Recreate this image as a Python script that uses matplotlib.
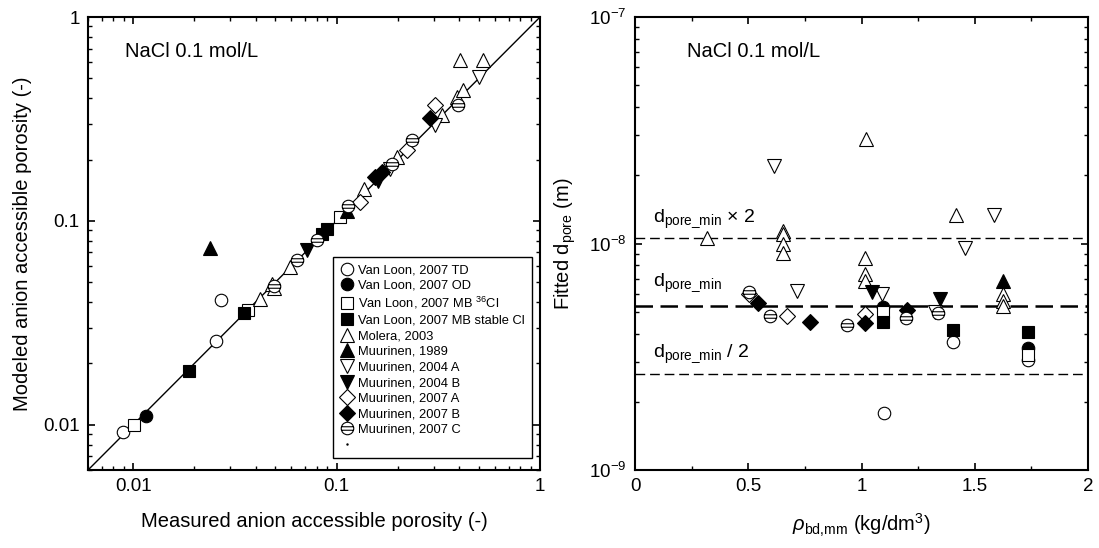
import numpy as np
import matplotlib
matplotlib.use("Agg")
import matplotlib.pyplot as plt
from matplotlib.path import Path
from matplotlib.ticker import FixedLocator, FixedFormatter, LogLocator, NullFormatter, MultipleLocator

plt.rcParams['font.family'] = ['Liberation Sans', 'DejaVu Sans']
plt.rcParams['mathtext.fontset'] = 'custom'
plt.rcParams['mathtext.rm'] = 'Liberation Sans'
plt.rcParams['mathtext.it'] = 'Liberation Sans:italic'
plt.rcParams['mathtext.default'] = 'regular'

# ---- left panel: measured vs modelled anion accessible porosity
vl_td_meas = [0.0089, 0.0256, 0.0269]
vl_td_mod = [0.0092, 0.0259, 0.0408]
vl_od_meas = [0.0115]
vl_od_mod = [0.0110]
vl_cl36_meas = [0.0101, 0.0366, 0.104]
vl_cl36_mod = [0.0100, 0.0367, 0.105]
vl_stab_meas = [0.0189, 0.0352, 0.085, 0.090]
vl_stab_mod = [0.0184, 0.0354, 0.086, 0.091]
mol_meas = [0.042, 0.048, 0.049, 0.059, 0.136, 0.198, 0.33, 0.39, 0.42, 0.405, 0.522]
mol_mod = [0.0416, 0.049, 0.047, 0.0593, 0.144, 0.206, 0.33, 0.405, 0.437, 0.615, 0.615]
m89_meas = [0.0239, 0.113]
m89_mod = [0.0735, 0.112]
m04a_meas = [0.183, 0.305, 0.50]
m04a_mod = [0.180, 0.294, 0.509]
m04b_meas = [0.0719, 0.160]
m04b_mod = [0.0716, 0.157]
m07a_meas = [0.130, 0.221, 0.305]
m07a_mod = [0.124, 0.222, 0.370]
m07b_meas = [0.155, 0.167, 0.288]
m07b_mod = [0.164, 0.174, 0.318]
m07c_meas = [0.049, 0.0637, 0.0805, 0.1135, 0.187, 0.236, 0.397]
m07c_mod = [0.048, 0.0644, 0.0809, 0.119, 0.190, 0.249, 0.370]

# ---- right panel: fitted pore diameter vs dry density
vl_td_rho = [1.10, 1.405, 1.735]
vl_td_d = [1.79e-9, 3.67e-9, 3.06e-9]
vl_od_rho = [1.095, 1.735]
vl_od_d = [5.25e-9, 3.46e-9]
vl_cl36_rho = [1.095, 1.735]
vl_cl36_d = [4.99e-9, 3.22e-9]
vl_stab_rho = [1.095, 1.405, 1.735]
vl_stab_d = [4.5e-9, 4.15e-9, 4.06e-9]
mol_rho = [0.32, 0.655, 0.655, 0.655, 0.655, 1.02, 1.015, 1.015, 1.015, 1.417, 1.625, 1.625, 1.625]
mol_d = [1.06e-8, 1.14e-8, 1.1e-8, 1.0e-8, 9.1e-9, 2.9e-8, 8.6e-9, 7.3e-9, 6.8e-9, 1.33e-8, 6.0e-9, 5.6e-9, 5.3e-9]
m89_rho = [1.625]
m89_d = [6.8e-9]
m04a_rho = [0.614, 0.715, 1.09, 1.325, 1.457, 1.585]
m04a_d = [2.2e-8, 6.2e-9, 6.0e-9, 5.0e-9, 9.6e-9, 1.33e-8]
m04b_rho = [1.046, 1.347]
m04b_d = [6.1e-9, 5.7e-9]
m07a_rho = [0.505, 0.671, 1.015]
m07a_d = [6.0e-9, 4.8e-9, 4.9e-9]
m07b_rho = [0.543, 0.773, 1.015, 1.2]
m07b_d = [5.45e-9, 4.5e-9, 4.45e-9, 5.08e-9]
m07c_rho = [0.505, 0.596, 0.936, 1.197, 1.337]
m07c_d = [6.1e-9, 4.8e-9, 4.36e-9, 4.7e-9, 4.95e-9]

d_pore_min = 5.3e-9

labels = ['Van Loon, 2007 TD', 'Van Loon, 2007 OD', 'Van Loon, 2007 MB $^{36}$Cl',
          'Van Loon, 2007 MB stable Cl', 'Molera, 2003', 'Muurinen, 1989',
          'Muurinen, 2004 A', 'Muurinen, 2004 B', 'Muurinen, 2007 A',
          'Muurinen, 2007 B', 'Muurinen, 2007 C']

# circle with two horizontal stripes
c = 0.28
w = np.sqrt(1 - c**2)
bars = Path([(-w, c), (w, c), (-w, -c), (w, -c)],
            [Path.MOVETO, Path.LINETO, Path.MOVETO, Path.LINETO])
striped = Path.make_compound_path(Path.unit_circle(), bars)

# marker, size, filled
styles = [('o', 9, False), ('o', 9, True), ('s', 9, False), ('s', 9, True),
          ('^', 10.5, False), ('^', 10.5, True), ('v', 10.5, False), ('v', 10.5, True),
          ('D', 7.8, False), ('D', 7.8, True), (striped, 9, False)]

left_data = [(vl_td_meas, vl_td_mod), (vl_od_meas, vl_od_mod), (vl_cl36_meas, vl_cl36_mod),
             (vl_stab_meas, vl_stab_mod), (mol_meas, mol_mod), (m89_meas, m89_mod),
             (m04a_meas, m04a_mod), (m04b_meas, m04b_mod), (m07a_meas, m07a_mod),
             (m07b_meas, m07b_mod), (m07c_meas, m07c_mod)]
right_data = [(vl_td_rho, vl_td_d), (vl_od_rho, vl_od_d), (vl_cl36_rho, vl_cl36_d),
              (vl_stab_rho, vl_stab_d), (mol_rho, mol_d), (m89_rho, m89_d),
              (m04a_rho, m04a_d), (m04b_rho, m04b_d), (m07a_rho, m07a_d),
              (m07b_rho, m07b_d), (m07c_rho, m07c_d)]

fig = plt.figure(figsize=(10.99, 5.48), dpi=100)
ax1 = fig.add_axes([0.0801, 0.1423, 0.4113, 0.8266])
ax2 = fig.add_axes([0.5778, 0.1423, 0.4122, 0.8266])

for ax in (ax1, ax2):
    for s in ax.spines.values():
        s.set_linewidth(1.5)
    ax.tick_params(which='both', direction='in', top=True, right=True, labelsize=13.5, pad=6)
    ax.tick_params(which='major', length=5, width=1.2)
    ax.tick_params(which='minor', length=3, width=1.0)

# left panel
ax1.plot([0.006, 1], [0.006, 1], color='k', linewidth=1.0, zorder=1)
for (x, y), (m, ms, filled), lab in zip(left_data, styles, labels):
    ax1.plot(x, y, linestyle='none', marker=m, markersize=ms, markeredgewidth=0.8,
             markeredgecolor='k', markerfacecolor='k' if filled else 'white', label=lab, zorder=3)
ax1.plot([], [], linestyle='none', marker='.', markersize=1.5, color='k', label=' ')
ax1.set_xscale('log')
ax1.set_yscale('log')
ax1.set_xlim(0.006, 1)
ax1.set_ylim(0.006, 1)
for axis in (ax1.xaxis, ax1.yaxis):
    axis.set_major_locator(FixedLocator([0.01, 0.1, 1]))
    axis.set_major_formatter(FixedFormatter(['0.01', '0.1', '1']))
    axis.set_minor_locator(LogLocator(base=10, subs=np.arange(2, 10)))
    axis.set_minor_formatter(NullFormatter())
ax1.set_xlabel('Measured anion accessible porosity (-)', fontsize=14.5, labelpad=12)
ax1.set_ylabel('Modeled anion accessible porosity (-)', fontsize=14.5, labelpad=8)
ax1.text(0.082, 0.925, 'NaCl 0.1 mol/L', transform=ax1.transAxes, fontsize=14.5, va='center')
leg = ax1.legend(loc='lower right', bbox_to_anchor=(0.982, 0.026), fontsize=9.3,
                 frameon=True, fancybox=False, edgecolor='k', framealpha=1,
                 handlelength=1.1, handletextpad=0.3, labelspacing=0.27,
                 borderpad=0.55, borderaxespad=0)
leg.get_frame().set_linewidth(1.0)

# right panel
ax2.axhline(d_pore_min * 2, color='k', linewidth=1.0, dashes=(7, 3.5), zorder=1)
ax2.axhline(d_pore_min, color='k', linewidth=1.8, dashes=(7, 3), zorder=1)
ax2.axhline(d_pore_min / 2, color='k', linewidth=1.0, dashes=(7, 3.5), zorder=1)
for (x, y), (m, ms, filled) in zip(right_data, styles):
    ax2.plot(x, y, linestyle='none', marker=m, markersize=ms, markeredgewidth=0.8,
             markeredgecolor='k', markerfacecolor='k' if filled else 'white', zorder=3)
ax2.set_yscale('log')
ax2.set_xlim(0, 2)
ax2.set_ylim(1e-9, 1e-7)
ax2.xaxis.set_major_locator(FixedLocator([0, 0.5, 1, 1.5, 2]))
ax2.xaxis.set_major_formatter(FixedFormatter(['0', '0.5', '1', '1.5', '2']))
ax2.xaxis.set_minor_locator(MultipleLocator(0.25))
ax2.yaxis.set_major_locator(FixedLocator([1e-9, 1e-8, 1e-7]))
ax2.yaxis.set_major_formatter(FixedFormatter(['$10^{-9}$', '$10^{-8}$', '$10^{-7}$']))
ax2.yaxis.set_minor_locator(LogLocator(base=10, subs=np.arange(2, 10)))
ax2.yaxis.set_minor_formatter(NullFormatter())
ax2.set_xlabel(r'$\mathit{\rho}_{bd{,}mm}$ (kg/dm$^3$)', fontsize=14.5, labelpad=12)
ax2.set_ylabel('Fitted d$_{pore}$ (m)', fontsize=14.5, labelpad=8)
ax2.text(0.115, 0.925, 'NaCl 0.1 mol/L', transform=ax2.transAxes, fontsize=14.5, va='center')
ax2.text(0.08, 1.245e-8, r'd$_{pore\_min}$ × 2', fontsize=14, va='baseline')
ax2.text(0.08, 6.5e-9, r'd$_{pore\_min}$', fontsize=14, va='baseline')
ax2.text(0.08, 3.16e-9, r'd$_{pore\_min}$ / 2', fontsize=14, va='baseline')

fig.savefig('out.png', dpi=100)
